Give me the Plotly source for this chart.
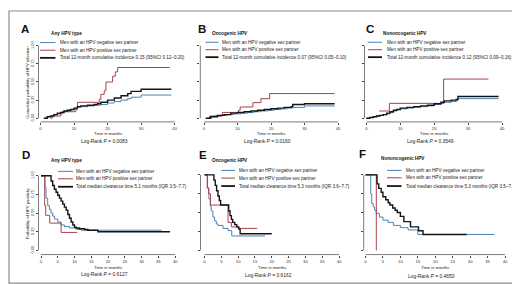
import plotly.graph_objects as go

W, H = 520, 284

# ---------------- data ----------------
LEG_NEG = "Men with an HPV negative sex partner"
LEG_POS = "Men with an HPV positive sex partner"

top_xticks = [0, 10, 20, 30, 40]
bottom_xticks = [0, 5, 10, 15, 20, 25, 30, 35, 40]
yticks = [0, 0.25, 0.5, 0.75, 1.0]
ytick_labels = ["0.00", "0.25", "0.50", "0.75", "1.00"]

top_ytitle = "Cumulative probability of HPV infection"
bottom_ytitle = "Probability of HPV positivity"
xtitle = "Time in months"

# Panel A - Any HPV type (cumulative incidence)
A_neg_t = [1, 2, 3, 4, 5, 6, 7, 8, 9, 10, 11, 12, 14, 16, 18, 20, 22, 24, 26, 27, 30, 39]
A_neg_p = [0, 0.02, 0.03, 0.05, 0.06, 0.08, 0.09, 0.10, 0.12, 0.13, 0.15, 0.16, 0.17, 0.18, 0.19, 0.21, 0.23, 0.25, 0.27, 0.29, 0.32, 0.32]
A_pos_t = [3, 3.5, 6, 6.5, 10.5, 11, 17, 17.5, 18, 19, 19.5, 21.5, 22.3, 23, 38.5]
A_pos_p = [0, 0.03, 0.06, 0.09, 0.12, 0.22, 0.22, 0.26, 0.33, 0.38, 0.50, 0.58, 0.64, 0.70, 0.70]
A_tot_t = [1, 2, 3, 4, 5, 6, 7, 8, 9, 10, 11, 12, 14, 16, 17, 18, 20, 22, 24, 26, 27, 30, 39]
A_tot_p = [0, 0.02, 0.03, 0.05, 0.07, 0.08, 0.10, 0.11, 0.12, 0.14, 0.16, 0.17, 0.18, 0.19, 0.20, 0.22, 0.25, 0.28, 0.31, 0.34, 0.37, 0.40, 0.40]

# Panel B - Oncogenic HPV (cumulative incidence)
B_neg_t = [1, 2, 3, 5, 7, 9, 11, 13, 15, 17, 19, 21, 23, 25, 26.5, 30, 39]
B_neg_p = [0, 0.02, 0.03, 0.04, 0.05, 0.06, 0.07, 0.08, 0.09, 0.10, 0.11, 0.12, 0.13, 0.14, 0.15, 0.17, 0.17]
B_pos_t = [1.2, 1.7, 5.5, 10.3, 10.8, 14.6, 17, 19.6, 39]
B_pos_p = [0, 0.03, 0.08, 0.11, 0.155, 0.215, 0.27, 0.34, 0.34]
B_tot_t = [0.5, 2, 4, 6, 8, 10, 12, 14, 16, 18, 20, 22, 24, 26, 26.5, 30, 39]
B_tot_p = [0, 0.02, 0.04, 0.05, 0.07, 0.08, 0.09, 0.10, 0.11, 0.12, 0.13, 0.14, 0.15, 0.16, 0.19, 0.20, 0.20]

# Panel C - Nononcogenic HPV (cumulative incidence)
C_neg_t = [0, 1, 2, 3, 4, 5, 6, 7, 8, 9, 10, 12, 14, 16, 18, 20, 22, 23, 25, 26.5, 27, 39]
C_neg_p = [0, 0.01, 0.02, 0.03, 0.04, 0.05, 0.06, 0.08, 0.10, 0.12, 0.13, 0.14, 0.15, 0.16, 0.17, 0.19, 0.21, 0.22, 0.23, 0.24, 0.27, 0.27]
C_pos_t = [3.8, 6.8, 22.8, 36]
C_pos_p = [0.10, 0.205, 0.54, 0.54]
C_tot_t = [0, 1, 2, 3, 4, 5, 6, 7, 8, 9, 10, 12, 14, 16, 18, 20, 22, 23, 25, 26.5, 27, 39]
C_tot_p = [0, 0.01, 0.02, 0.03, 0.04, 0.05, 0.07, 0.09, 0.11, 0.12, 0.14, 0.15, 0.16, 0.17, 0.18, 0.20, 0.22, 0.24, 0.25, 0.26, 0.30, 0.30]

# Panel D - Any HPV type (clearance)
D_neg_t = [0, 1.2, 1.5, 2.0, 2.5, 3.0, 3.5, 4.0, 5.0, 6.0, 7.0, 8.5, 10.5, 12.0, 36]
D_neg_p = [1, 0.85, 0.70, 0.60, 0.55, 0.50, 0.46, 0.42, 0.38, 0.34, 0.32, 0.30, 0.28, 0.27, 0.27]
D_pos_t = [0, 1.1, 1.4, 2.6, 6.0, 10.8]
D_pos_p = [1, 0.60, 0.47, 0.365, 0.24, 0.24]
D_tot_t = [0, 3.0, 3.5, 4.0, 4.5, 5.0, 5.5, 6.0, 6.5, 7.0, 7.5, 8.0, 8.5, 9.0, 9.5, 10.0, 10.5, 11.5, 13.0, 14.0, 17.0, 38.5]
D_tot_p = [1, 0.93, 0.87, 0.82, 0.78, 0.74, 0.70, 0.66, 0.62, 0.58, 0.54, 0.48, 0.43, 0.38, 0.34, 0.31, 0.30, 0.29, 0.28, 0.27, 0.25, 0.25]

# Panel E - Oncogenic HPV (clearance)
E_neg_t = [0, 0.9, 1.3, 1.7, 2.0, 2.5, 3.0, 3.5, 4.0, 5.5, 7.0, 8.1, 18.0]
E_neg_p = [1, 0.82, 0.68, 0.58, 0.52, 0.44, 0.39, 0.35, 0.33, 0.29, 0.26, 0.19, 0.19]
E_pos_t = [0, 0.8, 1.2, 1.8, 7.0, 8.0, 10.0, 15.7]
E_pos_p = [1, 0.83, 0.75, 0.60, 0.37, 0.31, 0.29, 0.29]
E_tot_t = [0, 2.8, 3.2, 3.6, 4.0, 4.4, 4.8, 7.2, 7.6, 8.0, 8.4, 9.0, 9.6, 10.2, 10.6, 20.0]
E_tot_p = [1, 0.93, 0.86, 0.79, 0.72, 0.66, 0.60, 0.52, 0.46, 0.41, 0.37, 0.34, 0.31, 0.28, 0.22, 0.22]

# Panel F - Nononcogenic HPV (clearance)
F_neg_t = [0, 1.5, 1.8, 2.2, 2.6, 3.1, 4.0, 5.0, 6.5, 8.0, 10.0, 12.2, 15.0, 37.0]
F_neg_p = [1, 0.75, 0.62, 0.575, 0.53, 0.49, 0.44, 0.40, 0.37, 0.33, 0.30, 0.27, 0.21, 0.21]
F_pos_t = [0, 3.1]
F_pos_p = [1, 0]
F_tot_t = [0, 3.3, 3.8, 4.5, 5.0, 5.8, 6.5, 7.0, 7.8, 8.5, 9.1, 10.0, 11.0, 12.9, 15.2, 16.5, 29.0]
F_tot_p = [1, 0.88, 0.82, 0.77, 0.71, 0.67, 0.63, 0.60, 0.56, 0.53, 0.50, 0.45, 0.38, 0.31, 0.26, 0.21, 0.21]

titles = ["Any HPV type", "Oncogenic HPV", "Nononcogenic HPV",
          "Any HPV type", "Oncogenic HPV", "Nononcogenic HPV"]
total_labels = [
    "Total 12-month cumulative incidence 0.15 (95%CI 0.12–0.20)",
    "Total 12-month cumulative incidence 0.07 (95%CI 0.05–0.10)",
    "Total 12-month cumulative incidence 0.12 (95%CI 0.09–0.16)",
    "Total median clearance time 5.1 months (IQR 3.5–7.7)",
    "Total median clearance time 5.3 months (IQR 3.6–7.7)",
    "Total median clearance time 5.3 months (IQR 3.5–7.7)",
]
logrank_p = ["0.0083", "0.0160", "0.3549", "0.6127", "0.6162", "0.4650"]
letters = ["A", "B", "C", "D", "E", "F"]

series = [
    ((A_neg_t, A_neg_p), (A_pos_t, A_pos_p), (A_tot_t, A_tot_p)),
    ((B_neg_t, B_neg_p), (B_pos_t, B_pos_p), (B_tot_t, B_tot_p)),
    ((C_neg_t, C_neg_p), (C_pos_t, C_pos_p), (C_tot_t, C_tot_p)),
    ((D_neg_t, D_neg_p), (D_pos_t, D_pos_p), (D_tot_t, D_tot_p)),
    ((E_neg_t, E_neg_p), (E_pos_t, E_pos_p), (E_tot_t, E_tot_p)),
    ((F_neg_t, F_neg_p), (F_pos_t, F_pos_p), (F_tot_t, F_tot_p)),
]

# ---------------- layout geometry (pixels) ----------------
geom = [
    dict(px0=32.5, px40=166.7, yline=30.5, py0=109, py1=36, xline=112.7),
    dict(px0=196.0, px40=330.0, yline=192.3, py0=109, py1=36, xline=112.7),
    dict(px0=358.3, px40=494.0, yline=356.5, py0=109, py1=36, xline=112.7),
    dict(px0=33.0, px40=167.0, yline=30.5, py0=242, py1=167, xline=246.3),
    dict(px0=196.5, px40=331.0, yline=192.5, py0=242, py1=166, xline=246.3),
    dict(px0=357.5, px40=497.0, yline=355.7, py0=242, py1=166, xline=246.3),
]
leg = [
    dict(x0=32, x1=47.5, tx=50.5, rows=[32.8, 40.5, 48.2]),
    dict(x0=197.5, x1=210.5, tx=213, rows=[32.5, 40, 47.5]),
    dict(x0=360, x1=374, tx=377.8, rows=[32.5, 40, 47.5]),
    dict(x0=50, x1=65, tx=66.8, rows=[162.5, 170, 178]),
    dict(x0=213.3, x1=227, tx=230, rows=[161.5, 169.3, 177.3]),
    dict(x0=379, x1=393.5, tx=396.5, rows=[161.5, 169, 177.3]),
]
letter_pos = [(16.5, 19), (193.7, 19), (362, 19), (18, 146.5), (195, 146.5), (354.7, 145.5)]
title_pos = [(41.7, 24), (203, 24), (374.3, 24), (41.7, 152), (203.3, 152), (371.7, 149.3)]
ytitle_pos = [(19.8, 72.5), None, None, (19.8, 205), None, None]
xtitle_y = [124, 124, 124, 259.5, 259.8, 259.8]
logrank_y = [132.7, 132.7, 132.7, 266.5, 267.5, 268.5]

BLUE = "#4a83b8"
RED = "#a8424c"
BLACK = "#151515"
AXC = "#444444"
FONT = "Liberation Sans, Arial, sans-serif"

fig = go.Figure()
shapes = []
annotations = []


def px(x):
    return x / W


def py(y):
    return 1 - y / H


for i in range(6):
    n = "" if i == 0 else str(i + 1)
    g = geom[i]
    sx = (g["px40"] - g["px0"]) / 40.0
    xmin = -(g["px0"] - g["yline"]) / sx
    xmax = 41.5
    sy = g["py0"] - g["py1"]
    ymin = -(g["xline"] - g["py0"]) / sy
    ymax = 1.05
    xdom = [g["yline"] / W, (g["px0"] + xmax * sx) / W]
    ydom = [1 - g["xline"] / H, 1 - (g["py0"] - ymax * sy) / H]

    (nt, npv), (pt, ppv), (tt, tpv) = series[i]
    for (t, p, col, w) in [(nt, npv, BLUE, 1.0), (pt, ppv, RED, 1.0), (tt, tpv, BLACK, 1.4)]:
        fig.add_trace(go.Scatter(x=t, y=p, mode="lines", line=dict(color=col, width=w, shape="hv"),
                                 xaxis="x" + n, yaxis="y" + n, showlegend=False, hoverinfo="skip"))

    xt = top_xticks if i < 3 else bottom_xticks
    fig.layout["xaxis" + n] = dict(
        domain=xdom, range=[xmin, xmax], anchor="y" + n, showgrid=False, zeroline=False,
        showline=False, ticks="outside", ticklen=2, tickwidth=0.6, tickcolor=AXC,
        tickvals=xt, ticktext=[str(v) for v in xt], tickfont=dict(size=4.2, color="#333", family=FONT),
        fixedrange=True)
    fig.layout["yaxis" + n] = dict(
        domain=ydom, range=[ymin, ymax], anchor="x" + n, showgrid=False, zeroline=False,
        showline=False, ticks="outside", ticklen=2, tickwidth=0.6, tickcolor=AXC,
        tickvals=yticks, ticktext=ytick_labels, showticklabels=(i % 3 == 0), tickangle=-90,
        tickfont=dict(size=4.0, color="#333", family=FONT), fixedrange=True)

    xr = "x" + n + " domain"
    yr = "y" + n + " domain"
    fx = lambda t: (t - xmin) / (xmax - xmin)
    fy = lambda v: (v - ymin) / (ymax - ymin)
    shapes.append(dict(type="line", xref=xr, yref=yr, x0=fx(0), x1=fx(40), y0=0, y1=0,
                       line=dict(color=AXC, width=0.7)))
    shapes.append(dict(type="line", xref=xr, yref=yr, x0=0, x1=0, y0=fy(0), y1=fy(1),
                       line=dict(color=AXC, width=0.7)))

    # legend
    L = leg[i]
    for (lab, col, w, ry) in [(LEG_NEG, BLUE, 1.0, L["rows"][0]), (LEG_POS, RED, 1.0, L["rows"][1]),
                              (total_labels[i], BLACK, 1.8, L["rows"][2])]:
        shapes.append(dict(type="line", xref="paper", yref="paper", x0=px(L["x0"]), x1=px(L["x1"]),
                           y0=py(ry), y1=py(ry), line=dict(color=col, width=w)))
        annotations.append(dict(text=lab, xref="paper", yref="paper", x=px(L["tx"]), y=py(ry),
                                xanchor="left", yanchor="middle", showarrow=False, borderpad=0,
                                font=dict(size=4.6, color="#222", family=FONT)))

    lx, ly = letter_pos[i]
    annotations.append(dict(text="<b>%s</b>" % letters[i], xref="paper", yref="paper", x=px(lx), y=py(ly),
                            xanchor="center", yanchor="middle", showarrow=False, borderpad=0,
                            font=dict(size=11.5, color="#111", family=FONT)))
    tx, ty = title_pos[i]
    annotations.append(dict(text="<b>%s</b>" % titles[i], xref="paper", yref="paper", x=px(tx), y=py(ty),
                            xanchor="left", yanchor="middle", showarrow=False, borderpad=0,
                            font=dict(size=4.7, color="#111", family=FONT)))
    if ytitle_pos[i] is not None:
        yx, yy = ytitle_pos[i]
        annotations.append(dict(text=top_ytitle if i < 3 else bottom_ytitle, xref="paper", yref="paper",
                                x=px(yx), y=py(yy), xanchor="center", yanchor="middle", textangle=-90,
                                showarrow=False, borderpad=0, font=dict(size=4.2, color="#222", family=FONT)))
    annotations.append(dict(text=xtitle, xref="x" + n, yref="paper", x=20, y=py(xtitle_y[i]),
                            xanchor="center", yanchor="middle", showarrow=False, borderpad=0,
                            font=dict(size=4.2, color="#222", family=FONT)))
    annotations.append(dict(text="Log-Rank <i>P</i> = %s" % logrank_p[i], xref="x" + n, yref="paper",
                            x=19, y=py(logrank_y[i]), xanchor="center", yanchor="middle", showarrow=False,
                            borderpad=0, font=dict(size=4.9, color="#222", family=FONT)))

# outer frame
shapes.append(dict(type="rect", xref="paper", yref="paper", x0=px(1), x1=px(519), y0=py(1), y1=py(275),
                   line=dict(color="#8c8c8c", width=1.2)))

fig.update_layout(width=W, height=H, margin=dict(l=0, r=0, t=0, b=0), paper_bgcolor="white",
                  plot_bgcolor="rgba(0,0,0,0)", shapes=shapes, annotations=annotations,
                  showlegend=False, font=dict(family=FONT))
fig.write_html("out.html")
